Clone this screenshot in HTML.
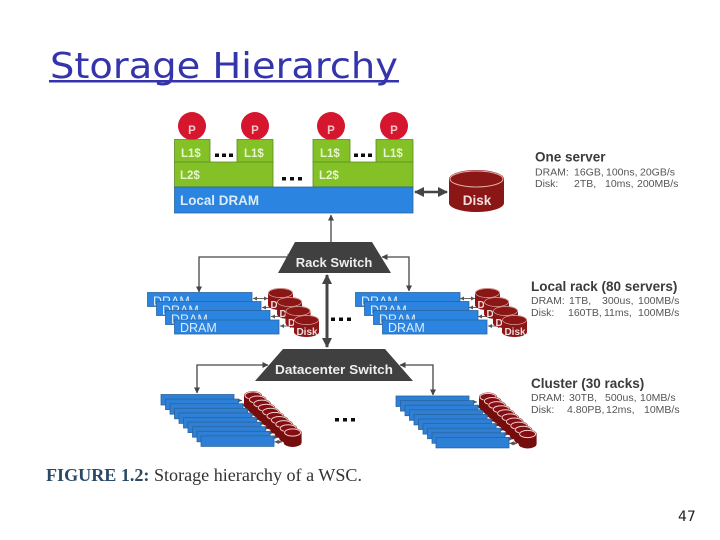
<!DOCTYPE html>
<html>
<head>
<meta charset="utf-8">
<style>
html,body{margin:0;padding:0;background:#fff;width:720px;height:540px;overflow:hidden}
svg{display:block}
.lb{font-family:"Liberation Sans",sans-serif;font-weight:bold;fill:#fff}
.h{font-family:"Liberation Sans",sans-serif;font-weight:bold;font-size:13.5px;fill:#3a3a3a}
.t{font-family:"Liberation Sans",sans-serif;font-size:10.5px;fill:#555}
</style>
</head>
<body>
<svg width="720" height="540" viewBox="0 0 720 540" xmlns="http://www.w3.org/2000/svg">
<defs>
<filter id="soft" x="-5%" y="-5%" width="110%" height="110%"><feGaussianBlur stdDeviation="0.35"/></filter>
<marker id="a" markerWidth="7" markerHeight="7" refX="5.5" refY="3" orient="auto-start-reverse" markerUnits="userSpaceOnUse"><path d="M0,0L6,3L0,6z" fill="#444"/></marker>
<marker id="s" markerWidth="5" markerHeight="5" refX="4" refY="2" orient="auto-start-reverse" markerUnits="userSpaceOnUse"><path d="M0,0L4,2L0,4z" fill="#555"/></marker>
<marker id="b" markerWidth="12" markerHeight="12" refX="9" refY="5" orient="auto-start-reverse" markerUnits="userSpaceOnUse"><path d="M0,0L10,5L0,10z" fill="#444"/></marker>
<g id="cd">
<path d="M0,4.500 a9,4.500 0 0 1 18,0 v10 a9,4.500 0 0 1 -18,0z" fill="#740c10"/>
<ellipse cx="9" cy="4.500" rx="8" ry="3.600" fill="#860f14" stroke="#f4cfc8" stroke-width="1"/>
</g>
<g id="cr">
<rect width="73" height="10.5" fill="#2f7fd6" stroke="#2a659f" stroke-width=".8"/>
<path d="M73.500,6H81" stroke="#777" stroke-width="1.200" marker-start="url(#s)" marker-end="url(#s)"/>
</g>
<g id="cluster">
<use href="#cr" x="0" y="0"/><use href="#cr" x="4.5" y="4.6"/><use href="#cr" x="9" y="9.2"/><use href="#cr" x="13.5" y="13.8"/><use href="#cr" x="18" y="18.4"/><use href="#cr" x="22.5" y="23"/><use href="#cr" x="27" y="27.6"/><use href="#cr" x="31.5" y="32.2"/><use href="#cr" x="36" y="36.8"/><use href="#cr" x="40" y="41.4"/>
<use href="#cd" x="83" y="-3.5"/><use href="#cd" x="87.4" y="0.6"/><use href="#cd" x="91.8" y="4.7"/><use href="#cd" x="96.2" y="8.8"/><use href="#cd" x="100.6" y="12.9"/><use href="#cd" x="105" y="17"/><use href="#cd" x="109.4" y="21.1"/><use href="#cd" x="113.8" y="25.2"/><use href="#cd" x="118.2" y="29.3"/><use href="#cd" x="122.6" y="33.5"/>
</g>
</defs>

<rect width="720" height="540" fill="#fff"/>

<!-- Title -->
<text x="50" y="78" font-family="'DejaVu Sans',sans-serif" font-size="36" fill="#3434ad" textLength="348" lengthAdjust="spacingAndGlyphs">Storage Hierarchy</text>
<rect x="49" y="80" width="350" height="2.5" fill="#3434ad"/>

<g filter="url(#soft)">
<!-- Processors -->
<circle cx="192" cy="126" r="14" fill="#d5152f"/>
<circle cx="255" cy="126" r="14" fill="#d5152f"/>
<circle cx="331" cy="126" r="14" fill="#d5152f"/>
<circle cx="394" cy="126" r="14" fill="#d5152f"/>
<text class="lb" font-size="11.5" text-anchor="middle" x="192" y="134" style="fill:#f3c5c5">P</text>
<text class="lb" font-size="11.5" text-anchor="middle" x="255" y="134" style="fill:#f3c5c5">P</text>
<text class="lb" font-size="11.5" text-anchor="middle" x="331" y="134" style="fill:#f3c5c5">P</text>
<text class="lb" font-size="11.5" text-anchor="middle" x="394" y="134" style="fill:#f3c5c5">P</text>

<!-- Caches -->
<g fill="#83c126" stroke="#5c8a2a" stroke-width=".8">
<rect x="174.5" y="139.5" width="35.5" height="23"/>
<rect x="237" y="139.5" width="36" height="23"/>
<rect x="313" y="139.5" width="37" height="23"/>
<rect x="376" y="139.5" width="37" height="23"/>
<rect x="174.5" y="162" width="98.5" height="25"/>
<rect x="313" y="162" width="100" height="25"/>
</g>
<g class="lb" font-size="11.5" style="fill:#e6f4cf">
<text x="181" y="157">L1$</text>
<text x="244" y="157">L1$</text>
<text x="320" y="157">L1$</text>
<text x="383" y="157">L1$</text>
<text x="180" y="179">L2$</text>
<text x="319" y="179">L2$</text>
</g>
<g fill="#111">
<rect x="215" y="153.5" width="4" height="3.5"/><rect x="222" y="153.5" width="4" height="3.5"/><rect x="229" y="153.5" width="4" height="3.5"/>
<rect x="354" y="153.5" width="4" height="3.5"/><rect x="361" y="153.5" width="4" height="3.5"/><rect x="368" y="153.5" width="4" height="3.5"/>
<rect x="282" y="177" width="4" height="3.5"/><rect x="290" y="177" width="4" height="3.5"/><rect x="298" y="177" width="4" height="3.5"/>
<rect x="331" y="317.5" width="4" height="3.5"/><rect x="339" y="317.5" width="4" height="3.5"/><rect x="347" y="317.5" width="4" height="3.5"/>
<rect x="335" y="418" width="4" height="3.5"/><rect x="343" y="418" width="4" height="3.5"/><rect x="351" y="418" width="4" height="3.5"/>
</g>

<!-- Local DRAM -->
<rect x="174.5" y="187" width="238.5" height="26" fill="#2c84e0" stroke="#2a659f" stroke-width=".8"/>
<text class="lb" font-size="14" x="180" y="205" style="fill:#dcebf8" textLength="79" lengthAdjust="spacingAndGlyphs">Local DRAM</text>

<!-- Server disk -->
<path d="M449,179 a27.5,9 0 0 1 55,0 v24 a27.5,9 0 0 1 -55,0z" fill="#8a1216"/>
<ellipse cx="476.5" cy="179" rx="26.5" ry="8" fill="#8a1216" stroke="#e0b0a8" stroke-width="1"/>
<text class="lb" font-size="13.5" text-anchor="middle" x="477" y="205" style="fill:#f3dede">Disk</text>
<path d="M415,192H447" stroke="#444" stroke-width="2.5" marker-start="url(#b)" marker-end="url(#b)" fill="none"/>

<!-- Rack Switch -->
<path d="M331,215V242" stroke="#444" stroke-width="1.3" marker-start="url(#a)" fill="none"/>
<polygon points="295,242 372,242 391,273 278,273" fill="#404040"/>
<text class="lb" font-size="13" text-anchor="middle" x="334" y="267" style="fill:#eee">Rack Switch</text>
<path d="M293,257H199V292" stroke="#444" stroke-width="1.3" marker-start="url(#a)" marker-end="url(#a)" fill="none"/>
<path d="M382,257H409V291" stroke="#444" stroke-width="1.3" marker-start="url(#a)" marker-end="url(#a)" fill="none"/>
<path d="M327,275V347" stroke="#444" stroke-width="3" marker-start="url(#b)" marker-end="url(#b)" fill="none"/>

<!-- Rack links -->
<g stroke="#666" stroke-width="1" fill="none">
<path d="M253,298.5H268" marker-start="url(#s)" marker-end="url(#s)"/>
<path d="M262,307.5H277" marker-start="url(#s)" marker-end="url(#s)"/>
<path d="M271,316.5H286" marker-start="url(#s)" marker-end="url(#s)"/>
<path d="M280,326H294" marker-start="url(#s)" marker-end="url(#s)"/>
<path d="M460,298.5H475" marker-start="url(#s)" marker-end="url(#s)"/>
<path d="M469,307.5H484" marker-start="url(#s)" marker-end="url(#s)"/>
<path d="M478,316.5H493" marker-start="url(#s)" marker-end="url(#s)"/>
<path d="M488,326H502" marker-start="url(#s)" marker-end="url(#s)"/>
</g>

<g font-family="'Liberation Sans',sans-serif" font-size="12.5" fill="#dcebf8">
<rect x="147.500" y="292.500" width="104.500" height="14" fill="#2c84e0" stroke="#2a659f" stroke-width=".8"/>
<text x="153" y="305.500">DRAM</text>
<rect x="156.500" y="301.500" width="104.500" height="14" fill="#2c84e0" stroke="#2a659f" stroke-width=".8"/>
<text x="162" y="314.500">DRAM</text>
<rect x="165.500" y="310.500" width="104.500" height="14" fill="#2c84e0" stroke="#2a659f" stroke-width=".8"/>
<text x="171" y="323.500">DRAM</text>
<rect x="174.500" y="320" width="104.500" height="14" fill="#2c84e0" stroke="#2a659f" stroke-width=".8"/>
<text x="180" y="332">DRAM</text>

<rect x="355.500" y="292.500" width="104.500" height="14" fill="#2c84e0" stroke="#2a659f" stroke-width=".8"/>
<text x="361" y="305.500">DRAM</text>
<rect x="364.500" y="301.500" width="104.500" height="14" fill="#2c84e0" stroke="#2a659f" stroke-width=".8"/>
<text x="370" y="314.500">DRAM</text>
<rect x="373.500" y="310.500" width="104.500" height="14" fill="#2c84e0" stroke="#2a659f" stroke-width=".8"/>
<text x="379" y="323.500">DRAM</text>
<rect x="382.500" y="320" width="104.500" height="14" fill="#2c84e0" stroke="#2a659f" stroke-width=".8"/>
<text x="388" y="332">DRAM</text>
</g>

<!-- Rack disks -->
<g font-family="'Liberation Sans',sans-serif" font-weight="bold" font-size="10" fill="#f0dcdc" text-anchor="middle">
<path d="M268,293 a12.500,5 0 0 1 25,0 v12 a12.500,5 0 0 1 -25,0z" fill="#8a1216"/><ellipse cx="280.500" cy="293" rx="12" ry="4.500" fill="#8a1216" stroke="#e0b0a8" stroke-width=".7"/><text x="281" y="308">Disk</text>
<path d="M277,302 a12.500,5 0 0 1 25,0 v12 a12.500,5 0 0 1 -25,0z" fill="#8a1216"/><ellipse cx="289.500" cy="302" rx="12" ry="4.500" fill="#8a1216" stroke="#e0b0a8" stroke-width=".7"/><text x="290" y="317">Disk</text>
<path d="M285.500,311 a12.500,5 0 0 1 25,0 v12 a12.500,5 0 0 1 -25,0z" fill="#8a1216"/><ellipse cx="298" cy="311" rx="12" ry="4.500" fill="#8a1216" stroke="#e0b0a8" stroke-width=".7"/><text x="298.500" y="326">Disk</text>
<path d="M294,320 a12.500,5 0 0 1 25,0 v12 a12.500,5 0 0 1 -25,0z" fill="#8a1216"/><ellipse cx="306.500" cy="320" rx="12" ry="4.500" fill="#8a1216" stroke="#e0b0a8" stroke-width=".7"/><text x="307" y="335">Disk</text>

<path d="M475,293 a12.500,5 0 0 1 25,0 v12 a12.500,5 0 0 1 -25,0z" fill="#8a1216"/><ellipse cx="487.500" cy="293" rx="12" ry="4.500" fill="#8a1216" stroke="#e0b0a8" stroke-width=".7"/><text x="488" y="308">Disk</text>
<path d="M484,302 a12.500,5 0 0 1 25,0 v12 a12.500,5 0 0 1 -25,0z" fill="#8a1216"/><ellipse cx="496.500" cy="302" rx="12" ry="4.500" fill="#8a1216" stroke="#e0b0a8" stroke-width=".7"/><text x="497" y="317">Disk</text>
<path d="M493,311 a12.500,5 0 0 1 25,0 v12 a12.500,5 0 0 1 -25,0z" fill="#8a1216"/><ellipse cx="505.500" cy="311" rx="12" ry="4.500" fill="#8a1216" stroke="#e0b0a8" stroke-width=".7"/><text x="506" y="326">Disk</text>
<path d="M502,320 a12.500,5 0 0 1 25,0 v12 a12.500,5 0 0 1 -25,0z" fill="#8a1216"/><ellipse cx="514.500" cy="320" rx="12" ry="4.500" fill="#8a1216" stroke="#e0b0a8" stroke-width=".7"/><text x="515" y="335">Disk</text>
</g>

<!-- Datacenter Switch -->
<polygon points="283,349 385,349 413,381 255,381" fill="#404040"/>
<text class="lb" font-size="12.5" text-anchor="middle" x="334" y="374" style="fill:#eee" textLength="118" lengthAdjust="spacingAndGlyphs">Datacenter Switch</text>
<path d="M268,365H197V393" stroke="#444" stroke-width="1.3" marker-start="url(#a)" marker-end="url(#a)" fill="none"/>
<path d="M400,365H433V395" stroke="#444" stroke-width="1.3" marker-start="url(#a)" marker-end="url(#a)" fill="none"/>

<!-- Clusters -->
<use href="#cluster" x="161" y="394.500"/>
<use href="#cluster" x="396" y="396"/>

<!-- Right labels -->
<text class="h" x="535" y="161.500">One server</text>
<text class="t" y="175.500"><tspan x="535">DRAM:</tspan><tspan x="574">16GB,</tspan><tspan x="606">100ns,</tspan><tspan x="640">20GB/s</tspan></text>
<text class="t" y="187"><tspan x="535">Disk:</tspan><tspan x="574">2TB,</tspan><tspan x="605">10ms,</tspan><tspan x="637">200MB/s</tspan></text>

<text class="h" x="531" y="291">Local rack (80 servers)</text>
<text class="t" y="304"><tspan x="531">DRAM:</tspan><tspan x="569">1TB,</tspan><tspan x="602">300us,</tspan><tspan x="638">100MB/s</tspan></text>
<text class="t" y="316"><tspan x="531">Disk:</tspan><tspan x="568">160TB,</tspan><tspan x="604">11ms,</tspan><tspan x="638">100MB/s</tspan></text>

<text class="h" x="531" y="388">Cluster (30 racks)</text>
<text class="t" y="401"><tspan x="531">DRAM:</tspan><tspan x="569">30TB,</tspan><tspan x="605">500us,</tspan><tspan x="640">10MB/s</tspan></text>
<text class="t" y="413"><tspan x="531">Disk:</tspan><tspan x="567">4.80PB,</tspan><tspan x="606">12ms,</tspan><tspan x="644">10MB/s</tspan></text>

<!-- Caption -->
<text x="46" y="481" font-family="'Liberation Serif',serif" font-size="18" fill="#333" textLength="316" lengthAdjust="spacingAndGlyphs"><tspan font-weight="bold" fill="#2b4a66">FIGURE 1.2:</tspan> Storage hierarchy of a WSC.</text>
</g>

<!-- Page number -->
<text x="678" y="521" font-family="'DejaVu Sans',sans-serif" font-size="14" fill="#222">47</text>
</svg>
</body>
</html>
